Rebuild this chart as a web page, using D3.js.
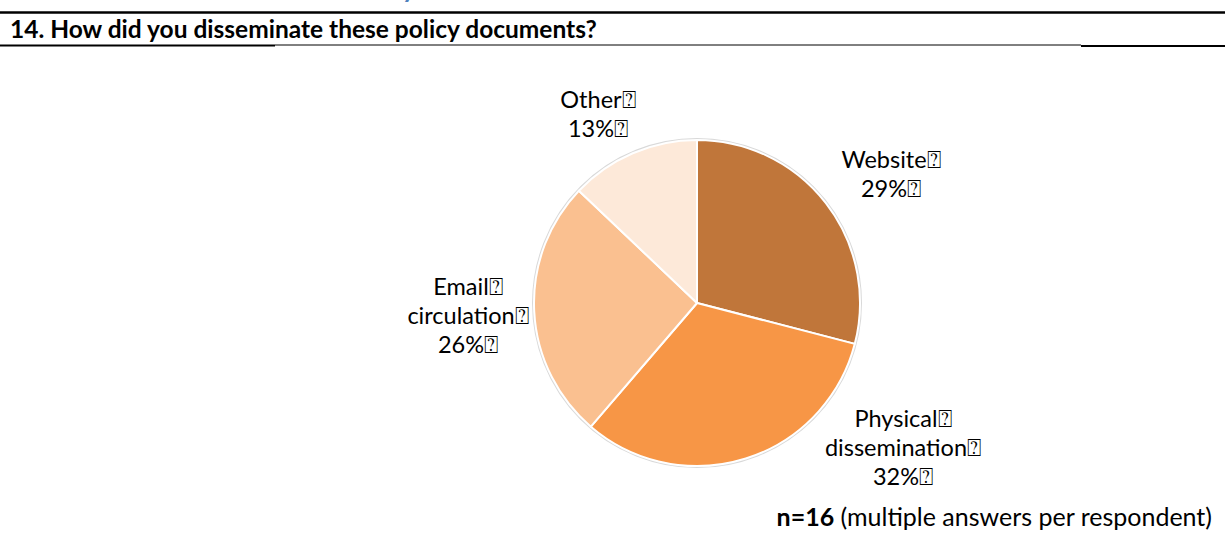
<!DOCTYPE html>
<html><head><meta charset="utf-8">
<script src="https://cdn.jsdelivr.net/npm/d3@7"></script>
<style>html,body{margin:0;padding:0;background:#fff;}svg{display:block;}</style>
</head><body>
<svg id="c" width="1225" height="536"></svg>
<script>
const categories = ["Website", "Physical dissemination", "Email circulation", "Other"];
const counts = [9, 10, 8, 4];
const percentLabels = ["29%", "32%", "26%", "13%"];
const labelLines = [["Website"], ["Physical", "dissemination"], ["Email", "circulation"], ["Other"]];
const colors = ["#C0763A", "#F79646", "#FAC090", "#FDE9D9"];
const titleText = "14. How did you disseminate these policy documents?";
const noteBold = "n=16";
const noteText = " (multiple answers per respondent)";

const FONT = "Lato, 'Open Sans', sans-serif";
const BOX = "\u2370";
const svg = d3.select("#c");

// cut-off heading fragment (descender only visible)
svg.append("text").attr("x", 402).attr("y", -2).attr("font-family", FONT)
  .attr("font-size", 26).attr("font-weight", "bold").attr("fill", "#4F81BD").text("y");

// title bar rules
svg.append("line").attr("x1", 0).attr("x2", 1225).attr("y1", 12.5).attr("y2", 12.5).attr("stroke", "#000").attr("stroke-width", 2.5);
svg.append("line").attr("x1", 0).attr("x2", 275).attr("y1", 45.5).attr("y2", 45.5).attr("stroke", "#000").attr("stroke-width", 2);
svg.append("line").attr("x1", 275).attr("x2", 1081).attr("y1", 45).attr("y2", 45).attr("stroke", "#000").attr("stroke-width", 1);
svg.append("line").attr("x1", 1081).attr("x2", 1225).attr("y1", 46).attr("y2", 46).attr("stroke", "#000").attr("stroke-width", 2);

svg.append("text").attr("x", 10).attr("y", 38).attr("font-family", FONT)
  .attr("font-size", 24.5).attr("font-weight", "bold").attr("fill", "#000").text(titleText);

// pie
const cx = 697, cy = 303, r = 163;
const pie = d3.pie().sort(null).value(d => d)(counts);
const arc = d3.arc().innerRadius(0).outerRadius(r);
const g = svg.append("g").attr("transform", `translate(${cx},${cy})`);
g.append("circle").attr("r", r + 1).attr("fill", "none").attr("stroke", "#D9D9D9").attr("stroke-width", 2);
g.selectAll("path").data(pie).join("path")
  .attr("d", arc).attr("fill", (d, i) => colors[i])
  .attr("stroke", "#fff").attr("stroke-width", 2).attr("stroke-linejoin", "round");

// labels (positions from the outer label layout)
const labelPos = [[891, 168], [903, 427], [468, 295], [598, 108]];
labelPos.forEach((p, i) => {
  const lines = labelLines[i].concat([percentLabels[i]]);
  const t = svg.append("text").attr("font-family", FONT).attr("font-size", 23.5)
    .attr("fill", "#000").attr("text-anchor", "middle");
  lines.forEach((ln, j) => {
    t.append("tspan").attr("x", p[0]).attr("y", p[1] + j * 29).text(ln + BOX);
  });
});

// note
const note = svg.append("text").attr("x", 1212).attr("y", 526).attr("text-anchor", "end")
  .attr("font-family", FONT).attr("font-size", 25).attr("fill", "#000");
note.append("tspan").attr("font-weight", "bold").text(noteBold);
note.append("tspan").text(noteText);
</script>
</body></html>
